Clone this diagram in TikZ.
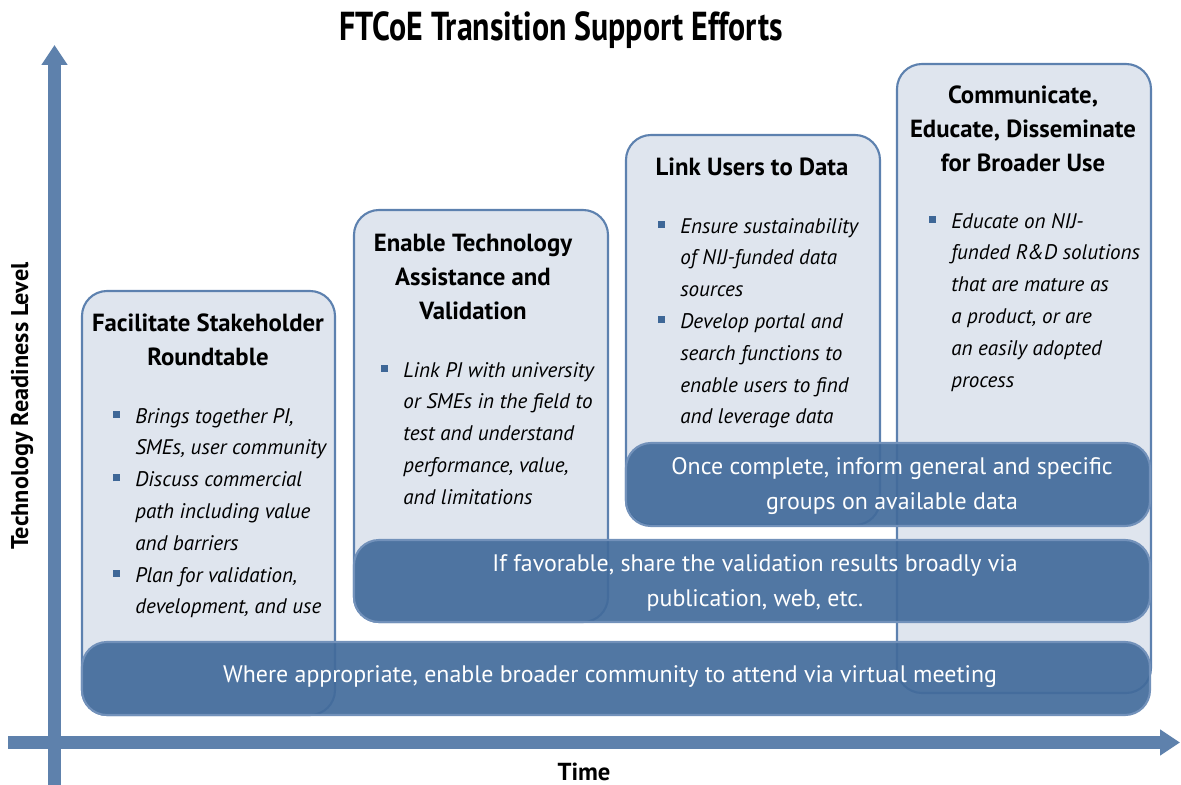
\documentclass[tikz,border=0pt]{standalone}
\usepackage{xcolor}
\usepackage{fontspec}
\setmainfont{PT Sans}
\newfontfamily\titlefont[FakeStretch=0.79]{PT Sans}
\usepackage{tikz}
\usetikzlibrary{arrows.meta,fit}
\definecolor{axisblue}{HTML}{5E81AC}
\definecolor{boxfill}{HTML}{DFE5EE}
\definecolor{boxline}{HTML}{5D81AF}
\definecolor{bandfill}{HTML}{426B9B}
\definecolor{bandline}{HTML}{7291BA}
\definecolor{bulletblue}{HTML}{3E6797}
\newcommand{\bsq}{\textcolor{bulletblue}{\rule[3pt]{4pt}{4pt}}}

\begin{document}
\begin{tikzpicture}[x=0.02cm,y=-0.02cm,
    box/.style={draw=boxline,fill=boxfill,line width=1.2pt,rounded corners=0.5cm,inner sep=0pt},
    band/.style={draw=bandline,fill=bandfill,fill opacity=0.92,line width=1.2pt,rounded corners=0.5cm,inner sep=0pt},
    head/.style={font=\fontsize{14.1}{19.3}\selectfont\bfseries,align=center,inner sep=0pt},
    items/.style={font=\fontsize{12}{18.1}\selectfont\itshape,anchor=base west,inner sep=0pt},
    bandtext/.style={text=white,font=\fontsize{13.6}{19.6}\selectfont,align=center,inner sep=0pt},
    axis/.style={axisblue,line width=0.26cm,-{Triangle[width=0.5cm,length=0.4cm]}}]
\useasboundingbox (0,0) rectangle (1181,785);

\node[font=\titlefont\fontsize{23}{28}\selectfont\bfseries] at (561,30) (title) {FTCoE Transition Support Efforts};

\coordinate (o1) at (54.5,785);
\coordinate (ytip) at (54.5,45);
\coordinate (o2) at (8,742.5);
\coordinate (xtip) at (1180,742.5);
\draw[axis] (o1) -- (ytip);
\draw[axis] (o2) -- (xtip);
\node[font=\fontsize{13.8}{18}\selectfont\bfseries,rotate=90] at (22,406) (ylab) {Technology Readiness Level};
\node[font=\fontsize{14}{18}\selectfont\bfseries] at (584,772) (xlab) {Time};

\node[box,fit={(82,291) (335,715)}] (b1) {};
\node[box,fit={(354,210) (608,622)}] (b2) {};
\node[box,fit={(626,135) (880,525)}] (b3) {};
\node[box,fit={(897,64) (1151,693)}] (b4) {};

\node[head] at (208,340) (h1) {Facilitate Stakeholder\\Roundtable};
\node[head] at (473,277) (h2) {Enable Technology\\Assistance and\\Validation};
\node[head] at (752,167) (h3) {Link Users to Data};
\node[head] at (1023,129) (h4) {Communicate,\\Educate, Disseminate\\for Broader Use};

\node[items] at (113,423) (i1) {\begin{tabular}[t]{@{}l@{\hspace{8.5pt}}l@{}}
\bsq & Brings together PI,\\
 & SMEs, user community\\
\bsq & Discuss commercial\\
 & path including value\\
 & and barriers\\
\bsq & Plan for validation,\\
 & development, and use
\end{tabular}};
\node[items] at (381,377) (i2) {\begin{tabular}[t]{@{}l@{\hspace{8.5pt}}l@{}}
\bsq & Link PI with university\\
 & or SMEs in the field to\\
 & test and understand\\
 & performance, value,\\
 & and limitations
\end{tabular}};
\node[items] at (658,233) (i3) {\begin{tabular}[t]{@{}l@{\hspace{8.5pt}}l@{}}
\bsq & Ensure sustainability\\
 & of NIJ-funded data\\
 & sources\\
\bsq & Develop portal and\\
 & search functions to\\
 & enable users to find\\
 & and leverage data
\end{tabular}};
\node[items] at (929,228) (i4) {\begin{tabular}[t]{@{}l@{\hspace{8.5pt}}l@{}}
\bsq & Educate on NIJ-\\
 & funded R\&D solutions\\
 & that are mature as\\
 & a product, or are\\
 & an easily adopted\\
 & process
\end{tabular}};

\node[band,fit={(626,443) (1150,526)}] (c) {};
\node[band,fit={(354,540) (1150,622)}] (v) {};
\node[band,fit={(82,642) (1150,715)}] (w) {};

\node[bandtext] at (892,486) (ct) {Once complete, inform general and specific\\groups on available data};
\node[bandtext] at (755,583) (vt) {If favorable, share the validation results broadly via\\publication, web, etc.};
\node[bandtext] at (610,677) (wt) {Where appropriate, enable broader community to attend via virtual meeting};
\end{tikzpicture}
\end{document}
